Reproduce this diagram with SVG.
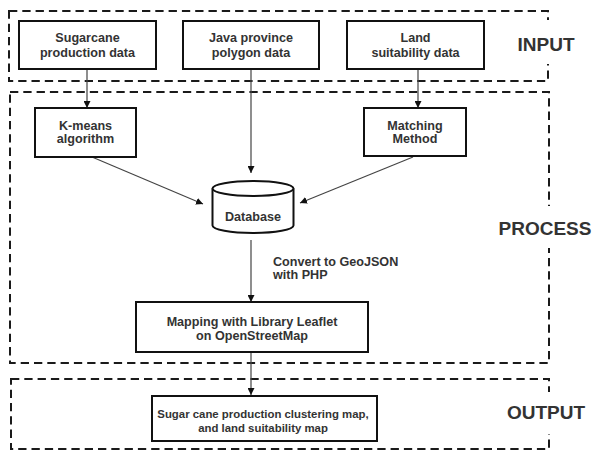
<svg xmlns="http://www.w3.org/2000/svg" width="595" height="452" viewBox="0 0 595 452">
<defs>
<style>
.grp{fill:none;stroke:#1a1a1a;stroke-width:2;stroke-dasharray:8.3 5}
.box{fill:#fff;stroke:#111;stroke-width:2}
.t{font-family:"Liberation Sans",Arial,sans-serif;font-weight:bold;font-size:12.6px;fill:#333;text-anchor:middle}
.lbl{font-family:"Liberation Sans",Arial,sans-serif;font-weight:bold;font-size:19px;fill:#333;text-anchor:middle}
.c{stroke:#444;stroke-width:1.2;fill:none;marker-end:url(#ah)}
</style>
<marker id="ah" viewBox="0 0 10 10" refX="10" refY="5" markerWidth="7" markerHeight="7" markerUnits="userSpaceOnUse" orient="auto">
<path d="M0,0 L10,5 L0,10 z" fill="#111"/>
</marker>
</defs>
<rect width="595" height="452" fill="#fff"/>
<g id="groups">
<rect class="grp" x="9" y="11" width="539" height="70"/>
<rect class="grp" x="10" y="92" width="539" height="271"/>
<rect class="grp" x="11" y="379" width="538" height="70"/>
</g>
<g id="labels">
<rect x="512" y="20" width="68" height="44" fill="#fff"/>
<text class="lbl" x="546" y="51">INPUT</text>
<rect x="496" y="206" width="99" height="42" fill="#fff"/>
<text class="lbl" x="545" y="235">PROCESS</text>
<rect x="500" y="392" width="90" height="42" fill="#fff"/>
<text class="lbl" x="546" y="419">OUTPUT</text>
</g>
<g id="connectors">
<line class="c" x1="87" y1="69" x2="87" y2="108"/>
<line class="c" x1="418" y1="69" x2="418" y2="108"/>
<line class="c" x1="251" y1="69" x2="251" y2="173"/>
<line class="c" x1="92" y1="157" x2="203" y2="204"/>
<line class="c" x1="413" y1="157" x2="300" y2="203"/>
<line class="c" x1="251" y1="240" x2="251" y2="302"/>
<line class="c" x1="251" y1="352" x2="251" y2="395"/>
</g>
<g id="sugarcane">
<rect class="box" x="19" y="21" width="137" height="48"/>
<text class="t" x="87.5" y="41.5">Sugarcane</text>
<text class="t" x="87.5" y="56.5">production data</text>
</g>
<g id="java">
<rect class="box" x="183" y="21" width="136" height="48"/>
<text class="t" x="251" y="41.5">Java province</text>
<text class="t" x="251" y="56.5">polygon data</text>
</g>
<g id="land">
<rect class="box" x="347" y="21" width="137" height="48"/>
<text class="t" x="415.5" y="41.5">Land</text>
<text class="t" x="415.5" y="56.5">suitability data</text>
</g>
<g id="kmeans">
<rect class="box" x="35" y="108" width="101" height="49"/>
<text class="t" x="85.5" y="129.5">K-means</text>
<text class="t" x="85.5" y="142.5">algorithm</text>
</g>
<g id="matching">
<rect class="box" x="364" y="108" width="102" height="48"/>
<text class="t" x="415" y="129.5">Matching</text>
<text class="t" x="415" y="142.5">Method</text>
</g>
<g id="database">
<path d="M212.5,188.5 L212.5,225.5 A40.5,7.5 0 0 0 293.5,225.5 L293.5,188.5" fill="#fff" stroke="#111" stroke-width="2"/>
<ellipse cx="253" cy="188.5" rx="40.5" ry="7.5" fill="#fff" stroke="#111" stroke-width="2"/>
<text class="t" x="253" y="220.5">Database</text>
</g>
<g id="convert-label">
<text class="t" x="273" y="265.5" style="text-anchor:start">Convert to GeoJSON</text>
<text class="t" x="273" y="278.5" style="text-anchor:start">with PHP</text>
</g>
<g id="mapping">
<rect class="box" x="136" y="302" width="232" height="50"/>
<text class="t" x="252" y="325.5">Mapping with Library Leaflet</text>
<text class="t" x="252" y="339.5">on OpenStreetMap</text>
</g>
<g id="output">
<rect class="box" x="152" y="396" width="225" height="45"/>
<text class="t" x="263" y="418" style="font-size:11.4px">Sugar cane production clustering map,</text>
<text class="t" x="263" y="432" style="font-size:11.4px">and land suitability map</text>
</g>
</svg>
